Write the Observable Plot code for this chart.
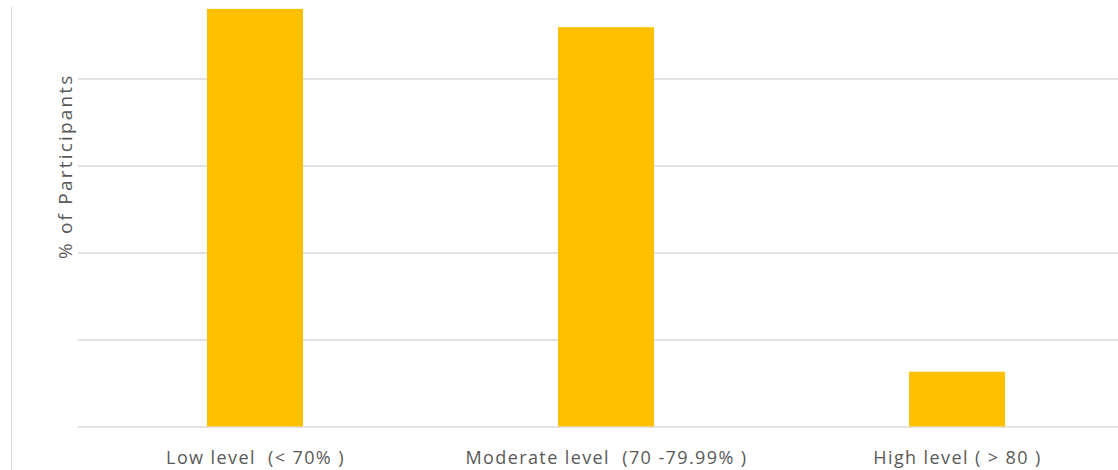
<!DOCTYPE html>
<html>
<head>
<meta charset="utf-8">
<script src="https://cdn.jsdelivr.net/npm/d3@7"></script>
<script src="https://cdn.jsdelivr.net/npm/@observablehq/plot@0.6"></script>
<style>
  html, body { margin: 0; padding: 0; background: #fff; }
  #wrap { position: relative; width: 1118px; height: 470px; overflow: hidden; }
  #edge { position: absolute; left: 11px; top: 7px; height: 463px; border-left: 1px solid #d9d9d9; }
  #chart { position: absolute; left: 0; top: 0; }
  g[aria-label="x-axis tick label"] text { font-size: 18px; letter-spacing: 1.4px; white-space: pre; }
  g[aria-label="y-axis label"] text { font-size: 19px; letter-spacing: 2.2px; }
</style>
</head>
<body>
<div id="wrap"><div id="edge"></div><div id="chart"></div></div>
<script>
const categories = ["Low level  (< 70% )", "Moderate level  (70 -79.99% )", "High level ( > 80 )"];
const values = [48.0, 45.9, 6.3];
const gridValues = [0, 10, 20, 30, 40];
const yLabel = "% of Participants";

const data = categories.map((c, i) => ({category: c, value: values[i]}));

const chart = Plot.plot({
  width: 1118,
  height: 470,
  marginLeft: 78,
  marginRight: 0,
  marginTop: -95,
  marginBottom: 43.5,
  style: {fontFamily: "'Open Sans', sans-serif", fontSize: "16px", color: "#595959", background: "transparent"},
  x: {domain: categories, range: [79.5, 1133.5], paddingInner: 0.726, paddingOuter: 0.363, label: null},
  y: {domain: [0, 40], range: [426.5, 78.5]},
  marks: [
    Plot.ruleY(gridValues, {stroke: "#d9d9d9", strokeWidth: 1.4}),
    Plot.barY(data, {x: "category", y: "value", fill: "#FFC000"}),
    Plot.axisX({tickSize: 0, tickPadding: 24.5, label: null, fill: "#595959"}),
    Plot.axisY({ticks: [], label: yLabel, labelAnchor: "center", labelArrow: "none", labelOffset: 20, fill: "#595959"})
  ]
});
document.getElementById("chart").appendChild(chart);
</script>
</body>
</html>
